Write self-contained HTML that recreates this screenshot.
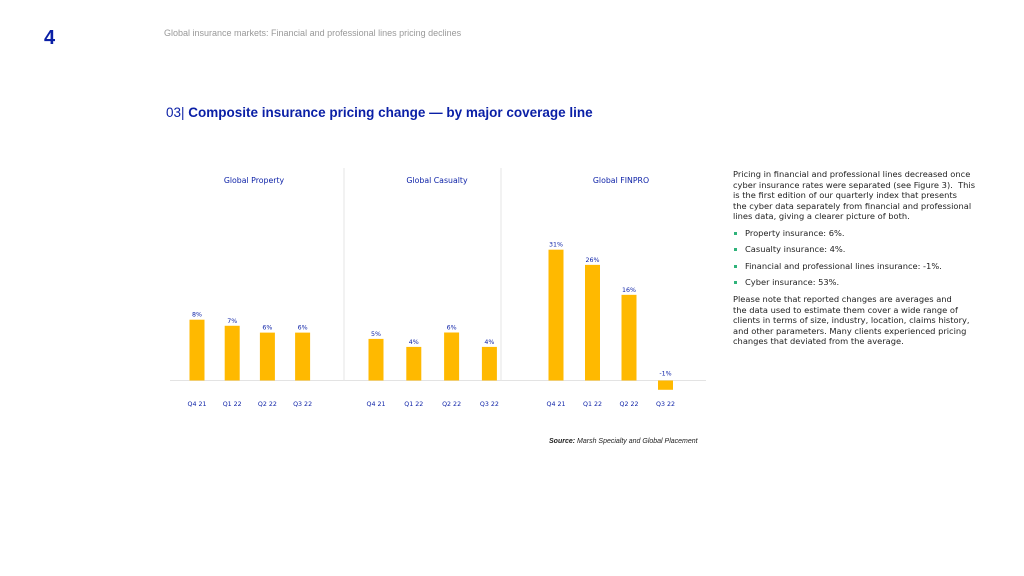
<!DOCTYPE html>
<html><head><meta charset="utf-8"><style>
body{margin:0;width:1024px;height:576px;background:#fff;position:relative;overflow:hidden;font-family:"Liberation Sans",sans-serif}
.abs{position:absolute;white-space:nowrap}
#text{position:absolute;left:733px;top:169px;width:270px;font-family:"DejaVu Sans",sans-serif;font-size:8.3px;line-height:10.6px;color:#222;white-space:nowrap}
#text p{margin:0 0 6px 0}
#text ul{margin:0 0 4px 0;padding:0;list-style:none}
#text li{position:relative;padding-left:12px;margin-bottom:5.9px}
#text li:before{content:"";position:absolute;left:1px;top:4px;width:3px;height:3px;background:#2fb37a}
</style></head><body>
<div class="abs" style="left:44px;top:27px;font-size:20px;font-weight:bold;color:#0a1fa6">4</div>
<div class="abs" style="left:164px;top:28px;font-size:9px;color:#999">Global insurance markets: Financial and professional lines pricing declines</div>
<div class="abs" style="left:166px;top:105px;font-size:13.5px;color:#0a1fa6"><span style="font-weight:normal">03|</span> <b>Composite insurance pricing change — by major coverage line</b></div>
<svg id="chart" width="1024" height="576" style="position:absolute;left:0;top:0"></svg>
<div class="abs" style="left:549px;top:438px;font-size:7px;font-style:italic;color:#222"><b>Source:</b> Marsh Specialty and Global Placement</div>
<div id="text">
<p>Pricing in financial and professional lines decreased once<br>cyber insurance rates were separated (see Figure 3).&nbsp; This<br>is the first edition of our quarterly index that presents<br>the cyber data separately from financial and professional<br>lines data, giving a clearer picture of both.</p>
<ul>
<li>Property insurance: 6%.</li>
<li>Casualty insurance: 4%.</li>
<li>Financial and professional lines insurance: -1%.</li>
<li>Cyber insurance: 53%.</li>
</ul>
<p>Please note that reported changes are averages and<br>the data used to estimate them cover a wide range of<br>clients in terms of size, industry, location, claims history,<br>and other parameters. Many clients experienced pricing<br>changes that deviated from the average.</p>
</div>
<script>
const categories=["Q4 21","Q1 22","Q2 22","Q3 22"];
const panelTitles=["Global Property","Global Casualty","Global FINPRO"];
const propertyValues=[8,7.2,6.3,6.3];
const casualtyValues=[5.2,4.2,6,4.2];
const finproValues=[31,27.4,20.3,-2.2];
const propertyLabels=["8%","7%","6%","6%"];
const casualtyLabels=["5%","4%","6%","4%"];
const finproLabels=["31%","26%","16%","-1%"];
const NS="http://www.w3.org/2000/svg";
const svg=document.getElementById('chart');
const baseY=380.5;
const FF='DejaVu Sans, sans-serif';
const panels=[
 {vals:propertyValues,labs:propertyLabels,x0:197,step:35.2,k:7.6,tx:254},
 {vals:casualtyValues,labs:casualtyLabels,x0:376,step:37.8,k:8.0,tx:437},
 {vals:finproValues,labs:finproLabels,x0:556,step:36.5,k:4.22,tx:621}];
function mk(t,a){const e=document.createElementNS(NS,t);for(const k in a)e.setAttribute(k,a[k]);svg.appendChild(e);return e;}
let l=mk('line',{x1:170,x2:706,y1:baseY,y2:baseY,stroke:'#e3e3e3','stroke-width':1});


[344,501].forEach(x=>{const d=mk('line',{x1:x,x2:x,y1:168,y2:baseY,stroke:'#e6e6e6','stroke-width':1});

});
panels.forEach((p,pi)=>{
 const t=mk('text',{x:p.tx,y:183,'text-anchor':'middle','font-size':7.8,fill:'#0a1fa6','font-family':FF});
 t.textContent=panelTitles[pi];
 
 
 p.vals.forEach((v,i)=>{
  const cx=p.x0+i*p.step;const h=v*p.k;
  const y=h>=0?baseY-h:baseY;
  const r=mk('rect',{x:cx-7.5,y:y,width:15,height:Math.abs(h),fill:'#ffb900'});
  
  
  const lb=mk('text',{x:cx,y:h>=0?y-3:baseY-5,'text-anchor':'middle','font-size':6.3,fill:'#0a1fa6','font-family':FF});
  lb.textContent=p.labs[i];
  
  
  const cl=mk('text',{x:cx,y:406,'text-anchor':'middle','font-size':6.3,fill:'#0a1fa6','font-family':FF});
  cl.textContent=categories[i];
  
  
 });
});
</script>
</body></html>
